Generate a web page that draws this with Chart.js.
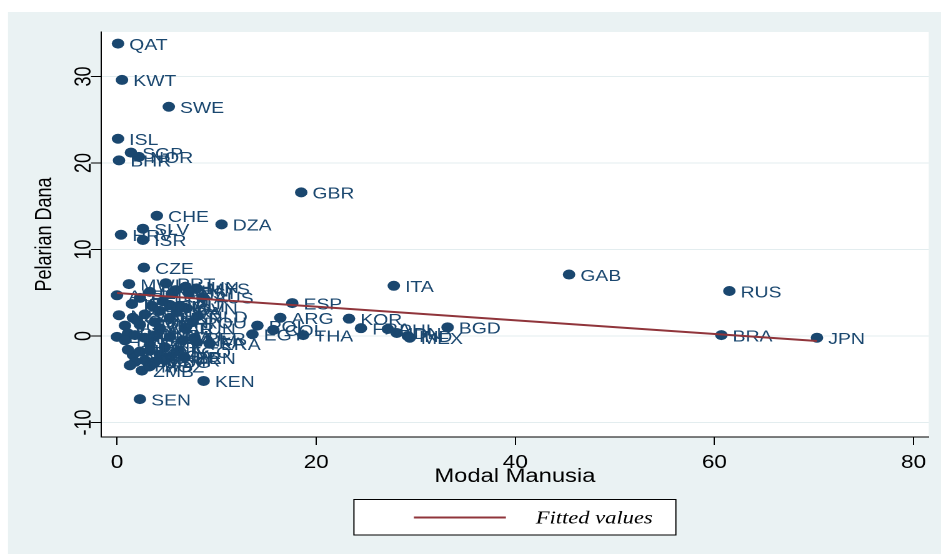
<!DOCTYPE html>
<html lang="id">
<head>
<meta charset="utf-8">
<title>Pelarian Dana vs Modal Manusia</title>
<script src="https://cdn.jsdelivr.net/npm/chart.js@4/dist/chart.umd.min.js"></script>
<style>
  html, body { margin: 0; padding: 0; background: #fff; overflow: hidden; }
  /* grafik aslinya agak melebar ke samping: kanvas digambar lebih sempit
     lalu ditarik ke 941px supaya titik & huruf ikut melebar */
  #wrap { width: 753px; height: 554px; transform: scaleX(1.2497); transform-origin: 0 0; }
</style>
</head>
<body>
<div id="wrap"><canvas id="scatterChart" width="753" height="554"></canvas></div>
<script>
/* ---------------------------------------------------------
   Data
   --------------------------------------------------------- */
const KODE_NEGARA = [
  "QAT", "KWT", "SWE", "ISL", "SGP", "NOR", "BHR", "GBR", "CHE", "DZA",
  "SLV", "HRV", "ISR", "CZE", "GAB", "ITA", "RUS", "ESP", "ARG", "KOR",
  "BGD", "FRA", "PHL", "IDN", "IND", "MEX", "BRA", "JPN", "THA", "POL",
  "COL", "EGY", "KEN", "SEN", "ZMB", "MWI", "PRT", "HUN", "MYS", "CHN",
  "AUS", "DNK", "AUT", "BEL", "IRL", "SAU", "MLT", "NLD", "ROU", "GRC",
  "TUR", "CHL", "NZL", "CAN", "UKR", "BGR", "SVK", "JOR", "MAR", "TUN",
  "LUX", "PAN", "PER", "LKA", "ERA", "VNM", "ECU", "GTM", "BOL", "DOM",
  "HND", "PRY", "NIC", "NPL", "GHA", "TZA", "UGA", "NGA", "NER", "MLI",
  "MDG", "CMR", "CIV", "BFA", "MOZ", "TGO", "BEN", "FIN", "EST", "LTU",
  "LVA", "SVN", "CYP"
];
const MODAL_MANUSIA = [
  0.1, 0.5, 5.2, 0.1, 1.4, 2.2, 0.2, 18.5, 4.0, 10.5,
  2.6, 0.4, 2.6, 2.7, 45.4, 27.8, 61.5, 17.6, 16.4, 23.3,
  33.2, 24.5, 27.2, 28.1, 29.2, 29.4, 60.7, 70.3, 18.7, 14.1,
  15.7, 13.6, 8.7, 2.3, 2.5, 1.2, 4.9, 6.9, 8.0, 5.9,
  8.6, 3.3, 0.0, 2.3, 1.5, 5.3, 6.3, 8.1, 7.6, 3.5,
  4.3, 2.8, 0.2, 1.6, 5.3, 3.8, 2.3, 0.8, 4.3, 6.8,
  0.0, 1.1, 7.8, 8.0, 9.3, 6.6, 5.3, 3.8, 2.8, 1.8,
  0.8, 3.3, 4.8, 1.6, 1.1, 2.3, 3.3, 4.3, 5.3, 2.8,
  3.8, 4.8, 1.8, 1.3, 3.3, 6.1, 6.8, 5.5, 7.2, 4.6,
  6.0, 7.0, 2.0
];
const PELARIAN_DANA = [
  33.8, 29.6, 26.5, 22.8, 21.2, 20.7, 20.3, 16.6, 13.9, 12.9,
  12.4, 11.7, 11.1, 7.9, 7.1, 5.8, 5.2, 3.8, 2.1, 2.0,
  1.0, 0.9, 0.8, 0.35, 0.0, -0.2, 0.1, -0.2, 0.1, 1.2,
  0.7, 0.2, -5.2, -7.3, -4.0, 6.0, 6.1, 5.7, 5.5, 5.3,
  4.5, 5.1, 4.7, 4.4, 3.7, 3.6, 3.5, 2.3, 1.6, 3.5,
  2.9, 2.5, 2.4, 2.1, 2.1, 1.6, 1.3, 1.2, 0.9, 0.9,
  -0.1, 0.3, -0.2, -0.7, -0.9, -0.5, -0.1, 0.0, -0.2, 0.1,
  -0.5, -1.0, -1.3, -2.2, -1.6, -1.8, -1.7, -2.2, -2.4, -2.8,
  -3.0, -2.8, -3.0, -3.4, -3.5, -1.8, -2.5, 4.9, 5.0, 4.0,
  2.8, 3.2, 1.8
];

// garis regresi: ujung kiri & kanan
const FITTED_X = [0.0, 70.3];
const FITTED_Y = [4.97, -0.58];

const X_TICKS = [0, 20, 40, 60, 80];
const Y_TICKS = [-10, 0, 10, 20, 30];

/* ---------------------------------------------------------
   Gaya
   --------------------------------------------------------- */
const FONT = "'Liberation Sans', Arial, Helvetica, sans-serif";
const NAVY = "#1A476F";
const MAROON = "#90353B";
const BG_LUAR = "#EAF2F3";

// latar: pinggir putih tipis, bidang biru muda, area plot putih
const backgroundPlugin = {
  id: "stataBackground",
  beforeDraw(chart) {
    const { ctx, width, height, chartArea: a } = chart;
    ctx.save();
    ctx.fillStyle = "#fff";
    ctx.fillRect(0, 0, width, height);
    ctx.fillStyle = BG_LUAR;
    ctx.fillRect(6.4, 12, width, height);
    ctx.fillStyle = "#fff";
    ctx.fillRect(a.left, a.top, a.right - a.left, a.bottom - a.top);
    ctx.restore();
  },
};

// label kode negara di kanan tiap titik
const pointLabelPlugin = {
  id: "pointLabels",
  afterDatasetDraw(chart, args) {
    if (args.index !== 1) return;
    const { ctx } = chart;
    const meta = chart.getDatasetMeta(1);
    ctx.save();
    ctx.font = `15.5px ${FONT}`;
    ctx.fillStyle = NAVY;
    ctx.textAlign = "left";
    ctx.textBaseline = "middle";
    meta.data.forEach((pt, i) => {
      ctx.fillText(KODE_NEGARA[i], pt.x + 9, pt.y + 2);
    });
    ctx.restore();
  },
};

// kotak legenda di bawah
const legendBoxPlugin = {
  id: "legendBox",
  afterDraw(chart) {
    const { ctx } = chart;
    const ds = chart.data.datasets[0];
    ctx.save();
    ctx.fillStyle = "#fff";
    ctx.fillRect(283.2, 499.5, 257.6, 35.5);
    ctx.strokeStyle = "#000";
    ctx.lineWidth = 1;
    ctx.strokeRect(283.2, 499.5, 257.6, 35.5);
    ctx.strokeStyle = ds.borderColor;
    ctx.lineWidth = 2;
    ctx.beginPath();
    ctx.moveTo(331.2, 517.5);
    ctx.lineTo(404.8, 517.5);
    ctx.stroke();
    ctx.fillStyle = "#000";
    ctx.font = "italic 18px 'Liberation Serif', 'Times New Roman', serif";
    ctx.textBaseline = "middle";
    ctx.fillText(ds.label, 428.8, 519);
    ctx.restore();
  },
};

const canvas = document.getElementById("scatterChart");

new Chart(canvas, {
  type: "scatter",
  data: {
    datasets: [
      {
        label: "Fitted values",
        data: FITTED_X.map((x, i) => ({ x, y: FITTED_Y[i] })),
        showLine: true,
        borderColor: MAROON,
        borderWidth: 2,
        pointRadius: 0,
        order: 0,
      },
      {
        label: "Pelarian Dana",
        data: MODAL_MANUSIA.map((x, i) => ({ x, y: PELARIAN_DANA[i] })),
        backgroundColor: NAVY,
        borderColor: NAVY,
        borderWidth: 0,
        pointRadius: 5,
        order: 1,
      },
    ],
  },
  options: {
    responsive: false,
    animation: false,
    devicePixelRatio: 2,
    events: [],
    layout: { padding: { top: 32, right: 9.8, bottom: 0, left: 0 } },
    plugins: { legend: { display: false }, tooltip: { enabled: false } },
    scales: {
      x: {
        type: "linear",
        min: -1.61,
        max: 81.53,
        afterBuildTicks: (s) => { s.ticks = X_TICKS.map((v) => ({ value: v })); },
        afterFit: (s) => { s.height = 117; },
        grid: { drawOnChartArea: false, drawTicks: true, tickLength: 8, tickColor: "#000" },
        border: { display: true, color: "#000", width: 1 },
        ticks: { color: "#000", font: { family: FONT, size: 18 }, padding: 7, maxRotation: 0, autoSkip: false },
        title: {
          display: true,
          text: "Modal Manusia",
          color: "#000",
          font: { family: FONT, size: 19 },
          padding: { top: 0, bottom: 65.6 },
        },
      },
      y: {
        type: "linear",
        min: -11.68,
        max: 35.14,
        afterBuildTicks: (s) => { s.ticks = Y_TICKS.map((v) => ({ value: v })); },
        afterFit: (s) => { s.width = 80.8; },
        grid: { color: "#E3EDEF", drawTicks: true, tickLength: 8, tickColor: "#000" },
        border: { display: true, color: "#000", width: 1 },
        ticks: {
          color: "#000",
          font: { family: FONT, size: 18 },
          minRotation: 90,
          maxRotation: 90,
          crossAlign: "center",
          padding: -7.5,
          autoSkip: false,
        },
        title: {
          display: true,
          text: "Pelarian Dana",
          color: "#000",
          font: { family: FONT, size: 18 },
          padding: { top: 25.2, bottom: 0 },
        },
      },
    },
  },
  plugins: [backgroundPlugin, pointLabelPlugin, legendBoxPlugin],
});
</script>
</body>
</html>
